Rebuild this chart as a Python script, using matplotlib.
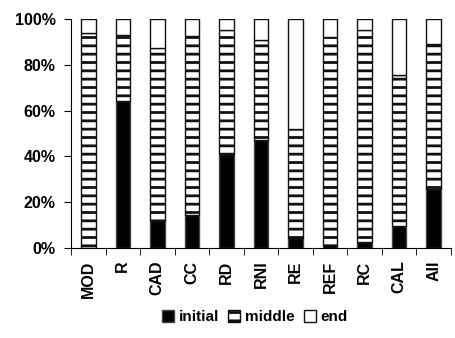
import numpy as np
import matplotlib.pyplot as plt

categories = ['MOD', 'R', 'CAD', 'CC', 'RD', 'RNI', 'RE', 'REF', 'RC', 'CAL', 'All']
initial = [0.0, 64.0, 12.0, 14.5, 41.0, 47.0, 4.5, 1.5, 2.5, 9.5, 26.0]
middle = [94.0, 29.0, 75.5, 78.0, 54.0, 44.0, 47.5, 90.5, 92.5, 66.0, 63.0]
end = [100 - a - b for a, b in zip(initial, middle)]

plt.rcParams['font.family'] = 'Liberation Sans'
plt.rcParams['hatch.linewidth'] = 2.0

fig = plt.figure(figsize=(4.55, 3.38), dpi=100)
ax = fig.add_axes([0.156, 0.266, 0.835, 0.678])

x = np.arange(len(categories))
w = 0.42
ax.bar(x, initial, w, color='black', edgecolor='#444444', linewidth=1.0, label='initial')
ax.bar(x, middle, w, bottom=initial, color='white', edgecolor='#111111',
       hatch='--', linewidth=1.0, label='middle')
bottom2 = [a + b for a, b in zip(initial, middle)]
ax.bar(x, end, w, bottom=bottom2, color='white', edgecolor='#111111',
       linewidth=1.0, label='end')

ax.set_xlim(-0.5, len(categories) - 0.5)
ax.set_ylim(0, 100)
ax.set_yticks(np.arange(0, 101, 20))
ax.set_yticklabels([f'{v}%' for v in range(0, 101, 20)])
ax.set_xticks(x)
ax.set_xticklabels(categories, rotation=90)
ax.tick_params(axis='x', length=0, pad=9)
ax.set_xticks(np.arange(-0.5, len(categories)), minor=True)
ax.tick_params(axis='x', which='minor', length=5, direction='out')
ax.tick_params(axis='y', length=5, direction='out', pad=6)

for lab in ax.get_xticklabels() + ax.get_yticklabels():
    lab.set_fontweight('bold')
    lab.set_fontsize(11.5)

ax.spines['top'].set_visible(False)
ax.spines['right'].set_visible(False)

fig.legend(loc='lower center', bbox_to_anchor=(0.56, 0.0), ncol=3, frameon=False,
           handlelength=0.8, handleheight=0.8, handletextpad=0.3, columnspacing=0.6,
           prop={'family': 'Liberation Sans', 'size': 11, 'weight': 'bold'})

fig.savefig('out.png', dpi=100)
